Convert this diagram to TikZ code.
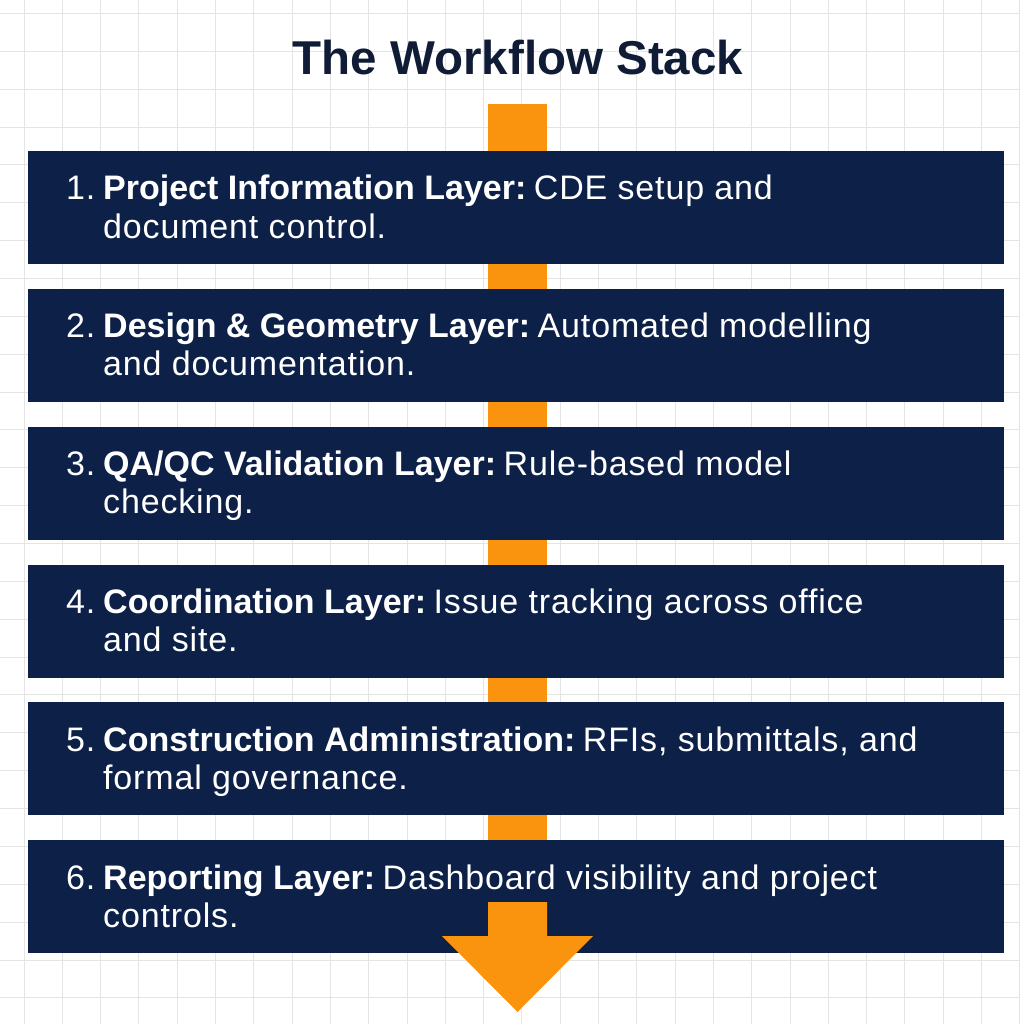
\documentclass[tikz,border=0pt]{standalone}
\usepackage{fontspec}
\setmainfont{Liberation Sans}[LetterSpace=2.5, BoldFeatures={LetterSpace=0}]
\usetikzlibrary{positioning}
\definecolor{navy}{RGB}{12,32,72}
\definecolor{titlenavy}{RGB}{16,28,54}
\definecolor{orng}{RGB}{250,148,14}
\definecolor{gridgray}{RGB}{228,228,228}

\begin{document}
\begin{tikzpicture}[x=1pt,y=-1pt,
  gridline/.style={gridgray, line width=1pt},
  layer/.style={fill=navy, draw=none, inner sep=0pt, anchor=north west,
    minimum width=976pt, minimum height=113pt},
  txt/.style={text=white, inner sep=0pt, anchor=base west,
    font=\fontsize{34}{40}\selectfont}]
\useasboundingbox (0,0) rectangle (1019,1024);
\fill[white] (0,0) rectangle (1019,1024);
% background grid
\foreach \gx in {0,...,26}
  \draw[gridline] (24+38.3*\gx,0) -- ++(0,1024);
\foreach \gy in {0,...,26}
  \draw[gridline] (0,13.5+37.86*\gy) -- ++(1019,0);

\node[font=\fontsize{47.5}{52}\selectfont\bfseries, text=titlenavy, anchor=base] (title) at (518,75) {The Workflow Stack};

% orange spine behind the layers
\fill[orng] (488,104) rectangle (547,940);

\foreach \k/\lab/\rest/\second in {
    1/{Project Information Layer:}/{CDE setup and}/{document control.},
    2/{Design \& Geometry Layer:}/{Automated modelling}/{and documentation.},
    3/{QA/QC Validation Layer:}/{Rule-based model}/{checking.},
    4/{Coordination Layer:}/{Issue tracking across office}/{and site.},
    5/{Construction Administration:}/{RFIs, submittals, and}/{formal governance.},
    6/{Reporting Layer:}/{Dashboard visibility and project}/{controls.}}
{
  \node[layer] (bar\k) at (28,151+137.8*\k-137.8) {};
  \node[txt] (num\k) at ([xshift=38pt, yshift=-49pt]bar\k.north west) {\k.};
  \node[txt] (head\k) at ([xshift=75pt, yshift=-49pt]bar\k.north west) {\textbf{\lab}\hspace{0.22em}\rest};
  \node[txt] (tail\k) at ([xshift=75pt, yshift=-87pt]bar\k.north west) {\second};
}

% arrow head over the last layer
\fill[orng] (488,902) -- (547,902) -- (547,936) -- (593,936)
  -- (517.5,1012) -- (442,936) -- (488,936) -- cycle;
\end{tikzpicture}
\end{document}
